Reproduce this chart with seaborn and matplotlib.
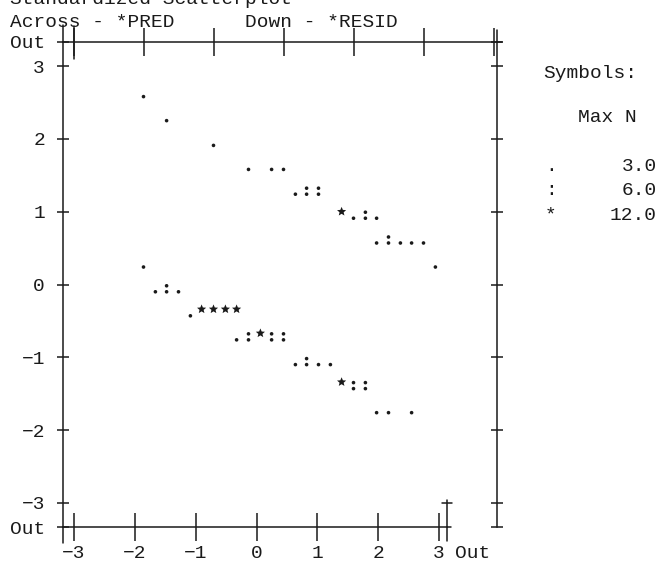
import matplotlib
matplotlib.use("Agg")
import matplotlib.pyplot as plt
from matplotlib.path import Path
import numpy as np
import pandas as pd
import seaborn as sns

# Standardized predicted values (across) and residuals (down), one entry per printed symbol
pred = [-2.00, -1.67, -1.00, -0.50, -0.17, 0.00, 0.17, 0.33, 0.50,
        0.83, 1.00, 1.17, 1.33, 1.33, 1.50, 1.67, 1.83, 2.00, 2.17,
        -2.00, -1.83, -1.67, -1.50, -1.33, -1.17, -1.00, -0.83, -0.67,
        -0.67, -0.50, -0.33, -0.17, 0.00, 0.17, 0.33, 0.50, 0.67,
        0.83, 1.00, 1.17, 1.33, 1.50, 1.83]
resid = [2.58, 2.25, 1.91, 1.58, 1.58, 1.58, 1.24, 1.24, 1.24,
         0.91, 0.91, 0.91, 0.91, 0.57, 0.57, 0.57, 0.57, 0.57, 0.24,
         0.24, -0.10, -0.10, -0.10, -0.43, -0.43, -0.43, -0.43, -0.43,
         -0.76, -0.76, -0.76, -0.76, -0.76, -1.10, -1.10, -1.10, -1.10,
         -1.43, -1.43, -1.43, -1.76, -1.76, -1.76]
symbol = [".", ".", ".", ".", ".", ".", ".", ":", ":",
          "*", ".", ":", ".", ".", ":", ".", ".", ".", ".",
          ".", ".", ":", ".", ".", "*", "*", "*", "*",
          ".", ":", "*", ":", ":", ".", ":", ".", ".",
          "*", ":", ":", ".", ".", "."]

legend_symbols = [".", ":", "*"]
legend_max_n = ["3.0", "6.0", "12.0"]

ytick_vals = [-3, -2, -1, 0, 1, 2, 3]
xtick_vals = [-3, -2, -1, 0, 1, 2, 3]

W, H, DPI = 660, 561, 100
PT = 72.0 / DPI  # points per pixel

sns.set_theme(style="white")
plt.rcParams["font.family"] = ["Liberation Mono", "DejaVu Sans Mono"]
plt.rcParams["axes.unicode_minus"] = True
FS = 14
INK = "#1a1a1a"
LW = 1.1

fig = plt.figure(figsize=(W / DPI, H / DPI), dpi=DPI)
fig.patch.set_facecolor("white")


def fx(x):
    return x / W


def fy(y):
    return 1 - y / H


def minus(v):
    return f"{v}".replace("-", "\u2212")


# plotting frame (the "Out" lines)
L, R, T, B = 63, 497, 42, 527
ax = fig.add_axes([fx(L), fy(B), (R - L) / W, (B - T) / H])
ax.set_facecolor("none")
OUT_Y = 3.33
ax.set_xlim(-3.15, 3.05)
ax.set_ylim(-OUT_Y, OUT_Y)


# character-plot style markers, built in pixel units
def circle(cx, cy, r):
    return Path.circle((cx, cy), r)


r_dot = 1.8
dot_path = circle(0, 0, r_dot)
colon_path = Path.make_compound_path(circle(0, 0, r_dot), circle(0, 6.0, r_dot))
star = Path.unit_regular_star(5, 0.45)
star_path = Path(star.vertices * 4.8 + np.array([0, 6.6]), star.codes)


def marker_area(path):
    ext = np.abs(path.vertices).max() * 2  # pixel extent after normalisation
    return (ext * PT) ** 2


markers = {".": dot_path, ":": colon_path, "*": star_path}
sizes = {k: marker_area(p) for k, p in markers.items()}

df = pd.DataFrame({"pred": pred, "resid": resid, "symbol": symbol})
sns.scatterplot(data=df, x="pred", y="resid", style="symbol", size="symbol",
                markers=markers, sizes=sizes, color=INK, linewidth=0,
                edgecolor="none", legend=False, ax=ax, clip_on=False)
ax.set_xlabel("")
ax.set_ylabel("")
ax.grid(False)

# frame: left, right and top lines of the plot
for name, s in ax.spines.items():
    s.set_visible(name != "bottom")
    s.set_color(INK)
    s.set_linewidth(LW)

ax.set_yticks([-OUT_Y] + ytick_vals + [OUT_Y])
ax.set_yticklabels(["Out"] + [minus(v) for v in ytick_vals] + ["Out"])
ax.set_xticks(xtick_vals)
ax.tick_params(axis="y", left=True, right=True, labelleft=True, labelright=False,
               direction="inout", length=12 * PT, width=LW, color=INK,
               labelsize=FS, labelcolor=INK, pad=12 * PT)
ax.tick_params(axis="x", bottom=False, top=True, labelbottom=False, labeltop=False,
               direction="inout", length=28 * PT, width=LW, color=INK)


def pxline(x0, y0, x1, y1):
    fig.add_artist(plt.Line2D([fx(x0), fx(x1)], [fy(y0), fy(y1)],
                              transform=fig.transFigure, color=INK, lw=LW))


# overshoot of the frame lines at the corners
pxline(L, T - 17, L, T)
pxline(L, B, L, B + 16)
pxline(R, T - 12, R, T)
pxline(R, T, R + 5, T)
pxline(73.5, T - 16, 73.5, T + 17)

# across axis printed along the bottom line
BL, BR = 63, 447
axb = fig.add_axes([fx(BL), fy(B), (BR - BL) / W, 0.5 / H])
axb.set_facecolor("none")
axb.set_xlim(-3.18, 3.13)
axb.set_yticks([])
for name, s in axb.spines.items():
    s.set_visible(name == "bottom")
    s.set_color(INK)
    s.set_linewidth(LW)
axb.set_xticks(xtick_vals)
axb.set_xticklabels([minus(v) for v in xtick_vals])
axb.tick_params(axis="x", bottom=True, top=False, direction="inout",
                length=28 * PT, width=LW, color=INK, labelsize=FS,
                labelcolor=INK, pad=4 * PT)
axb.grid(False)
pxline(BR, B, BR + 4, B)
pxline(BR, 500, BR, B + 14)
pxline(BR - 5, 503, BR + 5, 503)

fig.text(fx(455), fy(553), "Out", fontsize=FS, color=INK, ha="left", va="center")

# headings
fig.text(fx(10), fy(4), "Standardized Scatterplot", fontsize=FS, color=INK,
         ha="left", va="baseline")
fig.text(fx(10), fy(27), "Across - *PRED      Down - *RESID", fontsize=FS,
         color=INK, ha="left", va="baseline")

# symbol key
fig.text(fx(543), fy(78), "Symbols:", fontsize=FS, color=INK, ha="left", va="baseline")
fig.text(fx(578), fy(122), "Max N", fontsize=FS, color=INK, ha="left", va="baseline")
for i, (sym, n) in enumerate(zip(legend_symbols, legend_max_n)):
    yy = 171 + i * 24.4
    fig.text(fx(545), fy(yy), sym, fontsize=FS, color=INK, ha="left", va="baseline")
    fig.text(fx(657), fy(yy), n, fontsize=FS, color=INK, ha="right", va="baseline")

fig.savefig("out.png", dpi=DPI, facecolor="white")
